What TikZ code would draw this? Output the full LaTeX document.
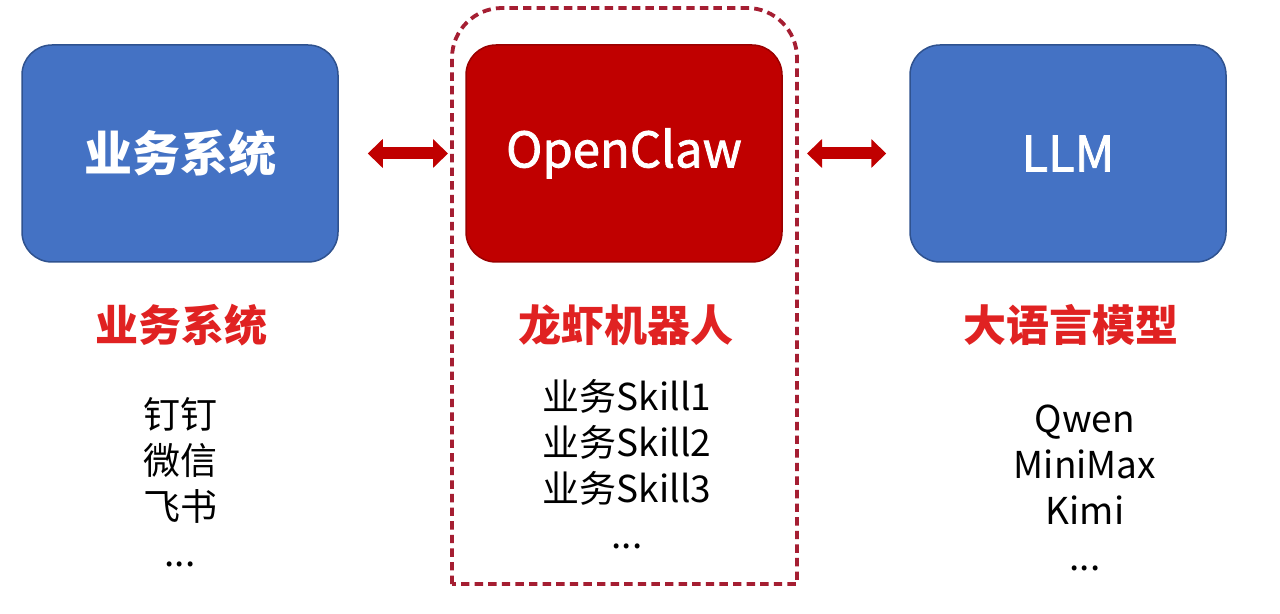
\documentclass[tikz,border=0pt]{standalone}
\usepackage{fontspec}
\setmainfont{Noto Sans CJK SC}
\newfontfamily\medfont{Noto Sans CJK SC}[FakeBold=1.6]
\usetikzlibrary{arrows.meta}
\definecolor{boxblue}{HTML}{4472C4}
\definecolor{boxblueline}{HTML}{2F528F}
\definecolor{boxred}{HTML}{C00000}
\definecolor{boxredline}{HTML}{9A0000}
\definecolor{framered}{HTML}{A51E32}
\definecolor{labelred}{HTML}{E02222}
\tikzset{
  mainbox/.style={rounded corners=15pt, minimum width=158pt, minimum height=108.5pt,
    line width=0.75pt, text=white, font=\fontsize{24pt}{28pt}\selectfont\bfseries},
  bluebox/.style={mainbox, fill=boxblue, draw=boxblueline},
  redbox/.style={mainbox, fill=boxred, draw=boxredline},
  latinbox/.style={font=\fontsize{24.5pt}{29pt}\selectfont\medfont},
  titlelabel/.style={text=labelred, font=\fontsize{21.5pt}{26pt}\selectfont\bfseries},
  listlabel/.style={text=black, align=center, font=\fontsize{18.5pt}{23pt}\selectfont},
  framestyle/.style={draw=framered, line width=1.9pt, dash pattern=on 4.2pt off 2.6pt},
  bigarrow/.style={draw=boxred, line width=6pt,
    {Triangle[length=7.5pt,width=14pt]}-{Triangle[length=7.5pt,width=14pt]}}
}
\begin{document}
\begin{tikzpicture}[x=0.5pt,y=-0.5pt]
\useasboundingbox[fill=white] (0,0) rectangle (1280,614);
% dashed frame
\draw[framestyle] (452,584) -- (452,58) arc[start angle=180,end angle=90,radius=25pt]
  -- (747,8) arc[start angle=90,end angle=0,radius=25pt] -- (797,584) -- cycle;
\coordinate (fw) at (452,153.5);
\coordinate (fe) at (797,153.5);
% boxes
\node[bluebox] (biz) at (180,153.5) {业务系统};
\node[redbox, latinbox] (claw) at (624,153.5) {OpenClaw};
\node[bluebox, latinbox] (llm) at (1068,153.5) {LLM};
% arrows
\draw[bigarrow, shorten <=14.5pt, shorten >=2pt] (biz.east) -- (fw);
\draw[bigarrow, shorten <=5pt, shorten >=11.5pt] (fe) -- (llm.west);
% titles
\node[titlelabel] (t1) at (181,325) {业务系统};
\node[titlelabel] (t2) at (626,325) {龙虾机器人};
\node[titlelabel] (t3) at (1071,325) {大语言模型};
% lists
\node[listlabel] (l1) at (180,482) {钉钉\\微信\\飞书\\...};
\node[listlabel] (l2) at (627,464.5) {业务Skill1\\业务Skill2\\业务Skill3\\...};
\node[listlabel] (l3) at (1085,487.5) {Qwen\\MiniMax\\Kimi\\...};
\end{tikzpicture}
\end{document}
